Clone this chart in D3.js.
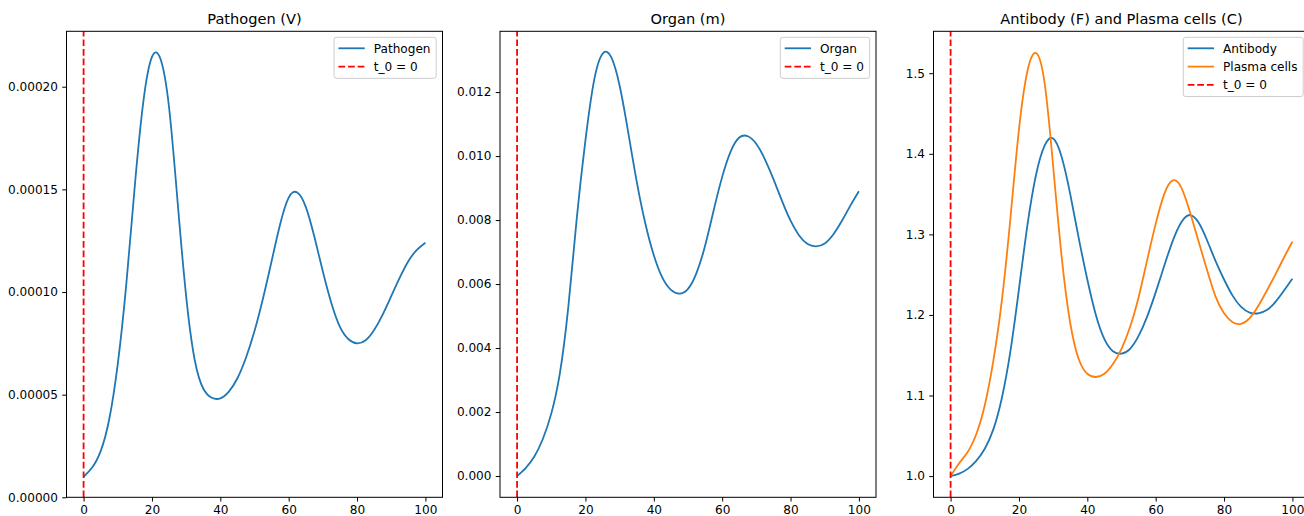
<!DOCTYPE html>
<html>
<head>
<meta charset="utf-8">
<script src="https://cdn.jsdelivr.net/npm/d3@7"></script>
<style>
  body { margin: 0; background: #ffffff; }
  svg text { font-family: "DejaVu Sans", sans-serif; fill: #000000; }
</style>
</head>
<body>
<svg id="chart" width="1304" height="516"></svg>
<script>
// ---- simulation output sampled every 2.5 time units ----
const timeGrid = d3.range(0, 100.001, 2.5);

// Pathogen load V(t)
const pathogen = [
  1.00e-5, 1.45e-5, 2.25e-5, 3.80e-5, 6.50e-5, 10.4e-5, 15.2e-5, 19.3e-5, 21.45e-5, 21.35e-5,
  19.0e-5, 14.4e-5, 9.80e-5, 6.70e-5, 5.30e-5, 4.85e-5, 4.82e-5, 5.15e-5, 5.80e-5, 6.80e-5,
  8.10e-5, 9.70e-5, 11.5e-5, 13.3e-5, 14.6e-5, 14.85e-5, 14.15e-5, 12.7e-5, 11.0e-5, 9.45e-5,
  8.30e-5, 7.70e-5, 7.50e-5, 7.65e-5, 8.15e-5, 8.90e-5, 9.80e-5, 10.7e-5, 11.5e-5, 12.05e-5,
  12.4e-5
];

// Organ damage m(t)
const organ = [
  0.00000, 0.00025, 0.00060, 0.00115, 0.00195, 0.00320, 0.00530, 0.00810, 0.01050, 0.01235,
  0.01320, 0.01310, 0.01220, 0.01075, 0.00920, 0.00790, 0.00690, 0.00620, 0.00582, 0.00570,
  0.00585, 0.00635, 0.00720, 0.00830, 0.00935, 0.01015, 0.01058, 0.01062, 0.01038, 0.00990,
  0.00928, 0.00860, 0.00798, 0.00752, 0.00725, 0.00718, 0.00727, 0.00755, 0.00797, 0.00845,
  0.00890
];

// Antibody F(t)
const antibody = [
  1.000, 1.003, 1.009, 1.019, 1.034, 1.058, 1.097, 1.155, 1.232, 1.312,
  1.374, 1.410, 1.419, 1.396, 1.350, 1.295, 1.244, 1.200, 1.170, 1.155,
  1.152, 1.158, 1.174, 1.198, 1.228, 1.261, 1.292, 1.315, 1.324, 1.315,
  1.293, 1.267, 1.244, 1.224, 1.210, 1.203, 1.202, 1.206, 1.216, 1.230,
  1.245
];

// Plasma cells C(t)
const plasmaCells = [
  1.000, 1.016, 1.030, 1.052, 1.088, 1.143, 1.218, 1.320, 1.430, 1.503,
  1.525, 1.488, 1.385, 1.272, 1.190, 1.145, 1.127, 1.123, 1.127, 1.139,
  1.158, 1.185, 1.222, 1.268, 1.313, 1.350, 1.367, 1.358, 1.328, 1.292,
  1.256, 1.223, 1.202, 1.191, 1.189, 1.196, 1.211, 1.230, 1.250, 1.271,
  1.291
];

const onsetTime = 0;           // t_0
const timeLimits = [-5, 105];
const timeTicks = [0, 20, 40, 60, 80, 100];

const pathogenLimits = [0, 0.000227];
const pathogenTicks = [0, 0.00005, 0.0001, 0.00015, 0.0002];
const organLimits = [-0.000665, 0.01390];
const organTicks = [0, 0.002, 0.004, 0.006, 0.008, 0.010, 0.012];
const immuneLimits = [0.9737, 1.552];
const immuneTicks = [1.0, 1.1, 1.2, 1.3, 1.4, 1.5];

// ---- layout ----
const svg = d3.select("#chart");
const axTop = 31.3, axBottom = 497.3, axWidth = 376;
const tickLen = 4.25, tickPad = 4.25;
const tickFont = "12.1px", titleFont = "14.6px";
const blue = "#1f77b4", orange = "#ff7f0e", red = "#ff0000";

const panels = [
  {
    left: 66.5, title: "Pathogen (V)",
    yDomain: pathogenLimits, yTicks: pathogenTicks, yFormat: d3.format(".5f"),
    series: [{ label: "Pathogen", values: pathogen, color: blue }]
  },
  {
    left: 500, title: "Organ (m)",
    yDomain: organLimits, yTicks: organTicks, yFormat: d3.format(".3f"),
    series: [{ label: "Organ", values: organ, color: blue }]
  },
  {
    left: 933.5, title: "Antibody (F) and Plasma cells (C)",
    yDomain: immuneLimits, yTicks: immuneTicks, yFormat: d3.format(".1f"),
    series: [
      { label: "Antibody", values: antibody, color: blue },
      { label: "Plasma cells", values: plasmaCells, color: orange }
    ]
  }
];

panels.forEach((p, i) => {
  const x = d3.scaleLinear().domain(timeLimits).range([p.left, p.left + axWidth]);
  const y = d3.scaleLinear().domain(p.yDomain).range([axBottom, axTop]);
  const g = svg.append("g");

  const clipId = "clip-" + i;
  svg.append("defs").append("clipPath").attr("id", clipId)
    .append("rect")
    .attr("x", p.left).attr("y", axTop)
    .attr("width", axWidth).attr("height", axBottom - axTop);

  const plot = g.append("g").attr("clip-path", `url(#${clipId})`);

  const line = d3.line()
    .x((d, k) => x(timeGrid[k]))
    .y(d => y(d))
    .curve(d3.curveNatural);

  p.series.forEach(s => {
    plot.append("path")
      .datum(s.values)
      .attr("d", line)
      .attr("fill", "none")
      .attr("stroke", s.color)
      .attr("stroke-width", 1.8)
      .attr("stroke-linejoin", "round")
      .attr("stroke-linecap", "butt");
  });

  // onset marker
  plot.append("line")
    .attr("x1", x(onsetTime)).attr("x2", x(onsetTime))
    .attr("y1", axBottom).attr("y2", axTop)
    .attr("stroke", red)
    .attr("stroke-width", 1.8)
    .attr("stroke-dasharray", "6.7,2.9");

  // axes
  const xAxis = d3.axisBottom(x).tickValues(timeTicks)
    .tickSize(tickLen).tickPadding(tickPad).tickFormat(d3.format("d"));
  const yAxis = d3.axisLeft(y).tickValues(p.yTicks)
    .tickSize(tickLen).tickPadding(tickPad).tickFormat(p.yFormat);

  const gx = g.append("g").attr("transform", `translate(0,${axBottom})`).call(xAxis);
  const gy = g.append("g").attr("transform", `translate(${p.left},0)`).call(yAxis);
  [gx, gy].forEach(a => {
    a.select(".domain").remove();
    a.attr("font-family", null).attr("font-size", null);
    a.selectAll(".tick line").attr("stroke", "#000").attr("stroke-width", 1);
    a.selectAll(".tick text").style("font-size", tickFont);
  });

  // frame
  g.append("rect")
    .attr("x", p.left).attr("y", axTop)
    .attr("width", axWidth).attr("height", axBottom - axTop)
    .attr("fill", "none").attr("stroke", "#000").attr("stroke-width", 1);

  // title
  g.append("text")
    .attr("x", p.left + axWidth / 2).attr("y", 24)
    .attr("text-anchor", "middle")
    .style("font-size", titleFont)
    .text(p.title);

  // legend
  const entries = p.series.map(s => ({ label: s.label, color: s.color, dashed: false }))
    .concat([{ label: "t_0 = 0", color: red, dashed: true }]);
  const lg = g.append("g");
  const box = lg.append("rect");
  const texts = entries.map((e, k) => lg.append("text")
    .attr("y", axTop + 21.4 + k * 18.3)
    .style("font-size", tickFont)
    .text(e.label));
  const maxW = d3.max(texts, t => t.node().getComputedTextLength());
  const boxW = 39.7 + maxW + 5.7;
  const boxL = p.left + axWidth - 6.3 - boxW;
  const boxH = entries.length * 18.3 + 4.4;
  box.attr("x", boxL).attr("y", axTop + 6)
    .attr("width", boxW).attr("height", boxH)
    .attr("rx", 2.5).attr("ry", 2.5)
    .attr("fill", "#ffffff").attr("fill-opacity", 0.8)
    .attr("stroke", "#cccccc").attr("stroke-width", 1);
  texts.forEach(t => t.attr("x", boxL + 39.7));
  entries.forEach((e, k) => {
    const cy = axTop + 17 + k * 18.3;
    lg.append("line")
      .attr("x1", boxL + 4.4).attr("x2", boxL + 30.7)
      .attr("y1", cy).attr("y2", cy)
      .attr("stroke", e.color).attr("stroke-width", 1.8)
      .attr("stroke-dasharray", e.dashed ? "6.7,2.9" : null);
  });
});
</script>
</body>
</html>
